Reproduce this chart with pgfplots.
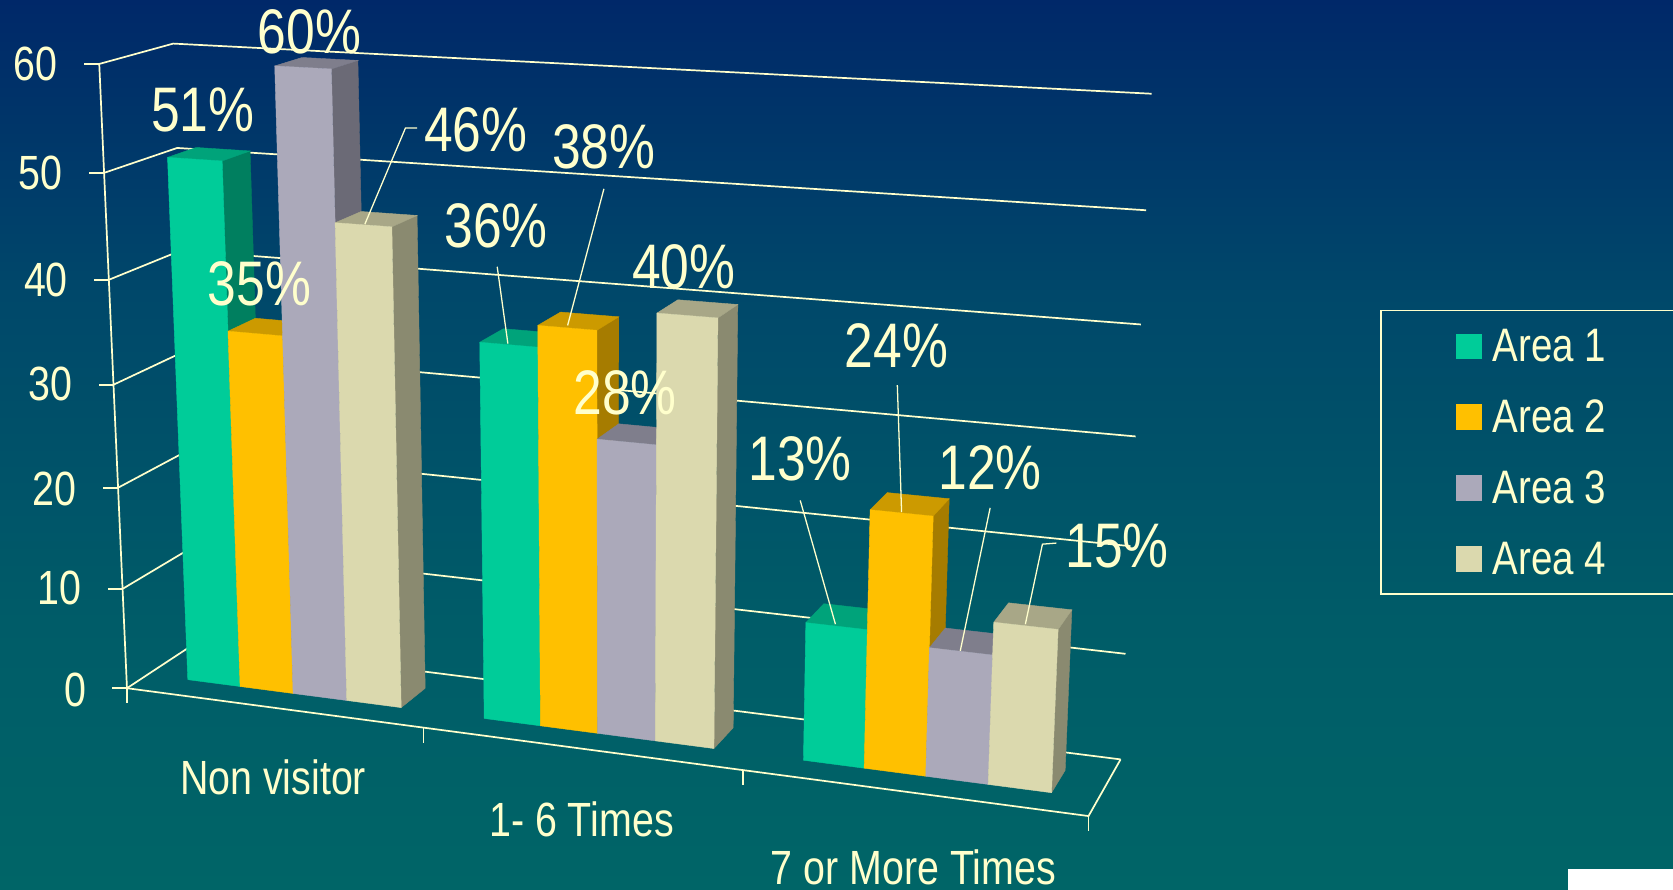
\documentclass[border=0pt]{standalone}
\usepackage{fontspec}
\setmainfont[FakeStretch=0.82]{Liberation Sans}
\usepackage{pgfplots}
\usepackage{pgfplotstable}
\pgfplotsset{compat=1.18}

\definecolor{txt}{RGB}{255,255,204}
\definecolor{aOne}{RGB}{0,204,153}
\definecolor{aOneT}{RGB}{0,163,122}
\definecolor{aOneS}{RGB}{0,127,95}
\definecolor{aTwo}{RGB}{255,192,0}
\definecolor{aTwoT}{RGB}{204,154,0}
\definecolor{aTwoS}{RGB}{166,124,0}
\definecolor{aThree}{RGB}{171,169,186}
\definecolor{aThreeT}{RGB}{127,126,140}
\definecolor{aThreeS}{RGB}{107,106,118}
\definecolor{aFour}{RGB}{219,217,174}
\definecolor{aFourT}{RGB}{168,167,135}
\definecolor{aFourS}{RGB}{138,138,112}
\definecolor{bgA}{RGB}{0,40,105}
\definecolor{bgB}{RGB}{0,72,106}
\definecolor{bgC}{RGB}{0,92,104}
\definecolor{bgD}{RGB}{0,101,103}
% the middle 50bp of a shading span the filled box
\pgfdeclareverticalshading{slidebg}{100bp}{color(0bp)=(bgD); color(25bp)=(bgD); color(40bp)=(bgC); color(58.5bp)=(bgB); color(75bp)=(bgA); color(100bp)=(bgA)}

% Faces of one bar: a = across the bar, d = depth, t = fraction of its height
\pgfplotstableread{
a d t
0 0.294 0
1 0.294 0
1 0.294 1
0 0.294 1
0 0.294 0
}\frontface
\pgfplotstableread{
a d t
1 0.294 0
1 0.694 0
1 0.694 1
1 0.294 1
1 0.294 0
}\sideface
\pgfplotstableread{
a d t
0 0.294 1
1 0.294 1
1 0.694 1
0 0.694 1
0 0.294 1
}\topface

% table of the face, group, position in group, value, colour
\newcommand\barface[5]{%
  \addplot[forget plot,fill=#5,draw=#5,line width=0.2pt] table[
    x expr={px(0.0468+#2/3+(#3+\thisrow{a})*0.0606,\thisrow{d},\thisrow{t}*#4)},
    y expr={py(0.0468+#2/3+(#3+\thisrow{a})*0.0606,\thisrow{d},\thisrow{t}*#4)}]{#1};}
\newcommand\drawbar[4]{%
  \barface{\sideface}{#1}{#2}{#3}{#4S}
  \barface{\topface}{#1}{#2}{#3}{#4T}
  \barface{\frontface}{#1}{#2}{#3}{#4}}

\newcommand\tl[3]{\node[text=txt,font=\fontsize{29.5}{29.5}\selectfont,inner sep=0pt] at (axis cs:#1,#2) {#3\%};}

\begin{document}
\begin{tikzpicture}[
  declare function={
    pw(\x,\y,\z)=1-0.1083*\x+0.0437*\y-0.05387*\z/60;
    px(\x,\y,\z)=(119+790.7*\x+72.7*\y-30.98*\z/60)/pw(\x,\y,\z);
    py(\x,\y,\z)=(645+37.0*\x-16.26*\y-588.3*\z/60)/pw(\x,\y,\z);
  }]
\begin{axis}[
  scale only axis,width=784pt,height=417pt,
  xmin=0,xmax=1568,ymin=0,ymax=834,y dir=reverse,
  xtick=\empty,ytick=\empty,
  axis line style={draw=none},
  axis background/.style={shade,shading=slidebg},
  legend cell align=left,
  legend style={at={(axis cs:1365,305)},anchor=north west,draw=none,fill=none,
    text=txt,font=\fontsize{22}{22}\selectfont,
    row sep=12.4pt,inner sep=0pt,outer sep=0pt},
  legend image code/.code={\fill[#1] (0pt,-5.3pt) rectangle (11.7pt,6.3pt);\path (14.7pt,0pt);},
]
\addlegendimage{aOne}\addlegendentry{Area 1}
\addlegendimage{aTwo}\addlegendentry{Area 2}
\addlegendimage{aThree}\addlegendentry{Area 3}
\addlegendimage{aFour}\addlegendentry{Area 4}

% walls and value gridlines
\pgfplotsinvokeforeach{0,10,...,60}{
  \addplot[forget plot,txt,line width=0.8pt] table[row sep=crcr,
    x expr={px(\thisrow{u},\thisrow{d},#1)},y expr={py(\thisrow{u},\thisrow{d},#1)}]{
    u d\\
    0 0\\
    0 1\\
    1 1\\
  };
  \addplot[forget plot,txt,line width=0.8pt] table[row sep=crcr,
    x expr={px(0,0,#1)-\thisrow{off}},y expr={py(0,0,#1)}]{
    off\\
    0\\
    14\\
  };
}
% value axis edge and front of the floor
\addplot[forget plot,txt,line width=0.8pt] table[row sep=crcr,
  x expr={px(\thisrow{u},\thisrow{d},\thisrow{v})},y expr={py(\thisrow{u},\thisrow{d},\thisrow{v})}]{
  u d v\\
  0 0 60\\
  0 0 0\\
  1 0 0\\
  1 1 0\\
};
% category ticks
\pgfplotsinvokeforeach{0,0.33333,0.66667,1}{
  \addplot[forget plot,txt,line width=0.7pt] table[row sep=crcr,
    x expr={px(#1,0,0)},y expr={py(#1,0,0)+\thisrow{off}}]{
    off\\
    0\\
    14\\
  };
}

% Non visitor
\drawbar{0}{0}{51}{aOne}
\drawbar{0}{1}{35}{aTwo}
\drawbar{0}{2}{60}{aThree}
\drawbar{0}{3}{46}{aFour}
% 1- 6 Times
\drawbar{1}{0}{36}{aOne}
\drawbar{1}{1}{38}{aTwo}
\drawbar{1}{2}{28}{aThree}
\drawbar{1}{3}{40}{aFour}
% 7 or More Times
\drawbar{2}{0}{13}{aOne}
\drawbar{2}{1}{24}{aTwo}
\drawbar{2}{2}{12}{aThree}
\drawbar{2}{3}{15}{aFour}

% leader lines
\addplot[forget plot,txt,line width=0.6pt] coordinates {(391,120)(380,120)(342,210)};
\addplot[forget plot,txt,line width=0.6pt] coordinates {(466,250)(476,322)};
\addplot[forget plot,txt,line width=0.6pt] coordinates {(566,177)(532,305)};
\addplot[forget plot,txt,line width=0.6pt] coordinates {(841,361)(845,480)};
\addplot[forget plot,txt,line width=0.6pt] coordinates {(750,469)(783,585)};
\addplot[forget plot,txt,line width=0.6pt] coordinates {(928,476)(900,610)};
\addplot[forget plot,txt,line width=0.6pt] coordinates {(990,509)(977,510)(961,585)};

% legend frame, running off the right edge
\addplot[forget plot,txt,line width=0.8pt] coordinates {(1575,291)(1294,291)(1294,557)(1575,557)};
% white corner
\addplot[forget plot,fill=white,draw=white] coordinates {(1470,815)(1575,815)(1575,840)(1470,840)};

% value labels
\tl{190}{103}{51}
\tl{290}{30}{60}
\tl{243}{266}{35}
\tl{446}{122}{46}
\tl{465}{212}{36}
\tl{566}{138}{38}
\tl{586}{368}{28}
\tl{641}{250}{40}
\tl{750}{430}{13}
\tl{840}{324}{24}
\tl{928}{438}{12}
\tl{1047}{512}{15}

% value axis labels
\begingroup
\def\ax#1#2#3{\node[text=txt,font=\fontsize{22.5}{22.5}\selectfont,inner sep=0pt,anchor=east] at (axis cs:#1,#2) {#3};}
\ax{54}{60}{60}
\ax{59}{162}{50}
\ax{64}{262}{40}
\ax{68}{360}{30}
\ax{72}{458}{20}
\ax{77}{551}{10}
\ax{81}{647}{0}
\endgroup

% category labels
\node[text=txt,font=\fontsize{22.5}{22.5}\selectfont,inner sep=0pt] at (axis cs:256,729) {Non visitor};
\node[text=txt,font=\fontsize{22.5}{22.5}\selectfont,inner sep=0pt] at (axis cs:545,768) {1- 6 Times};
\node[text=txt,font=\fontsize{22.5}{22.5}\selectfont,inner sep=0pt] at (axis cs:856,813) {7 or More Times};
\end{axis}
\end{tikzpicture}
\end{document}
